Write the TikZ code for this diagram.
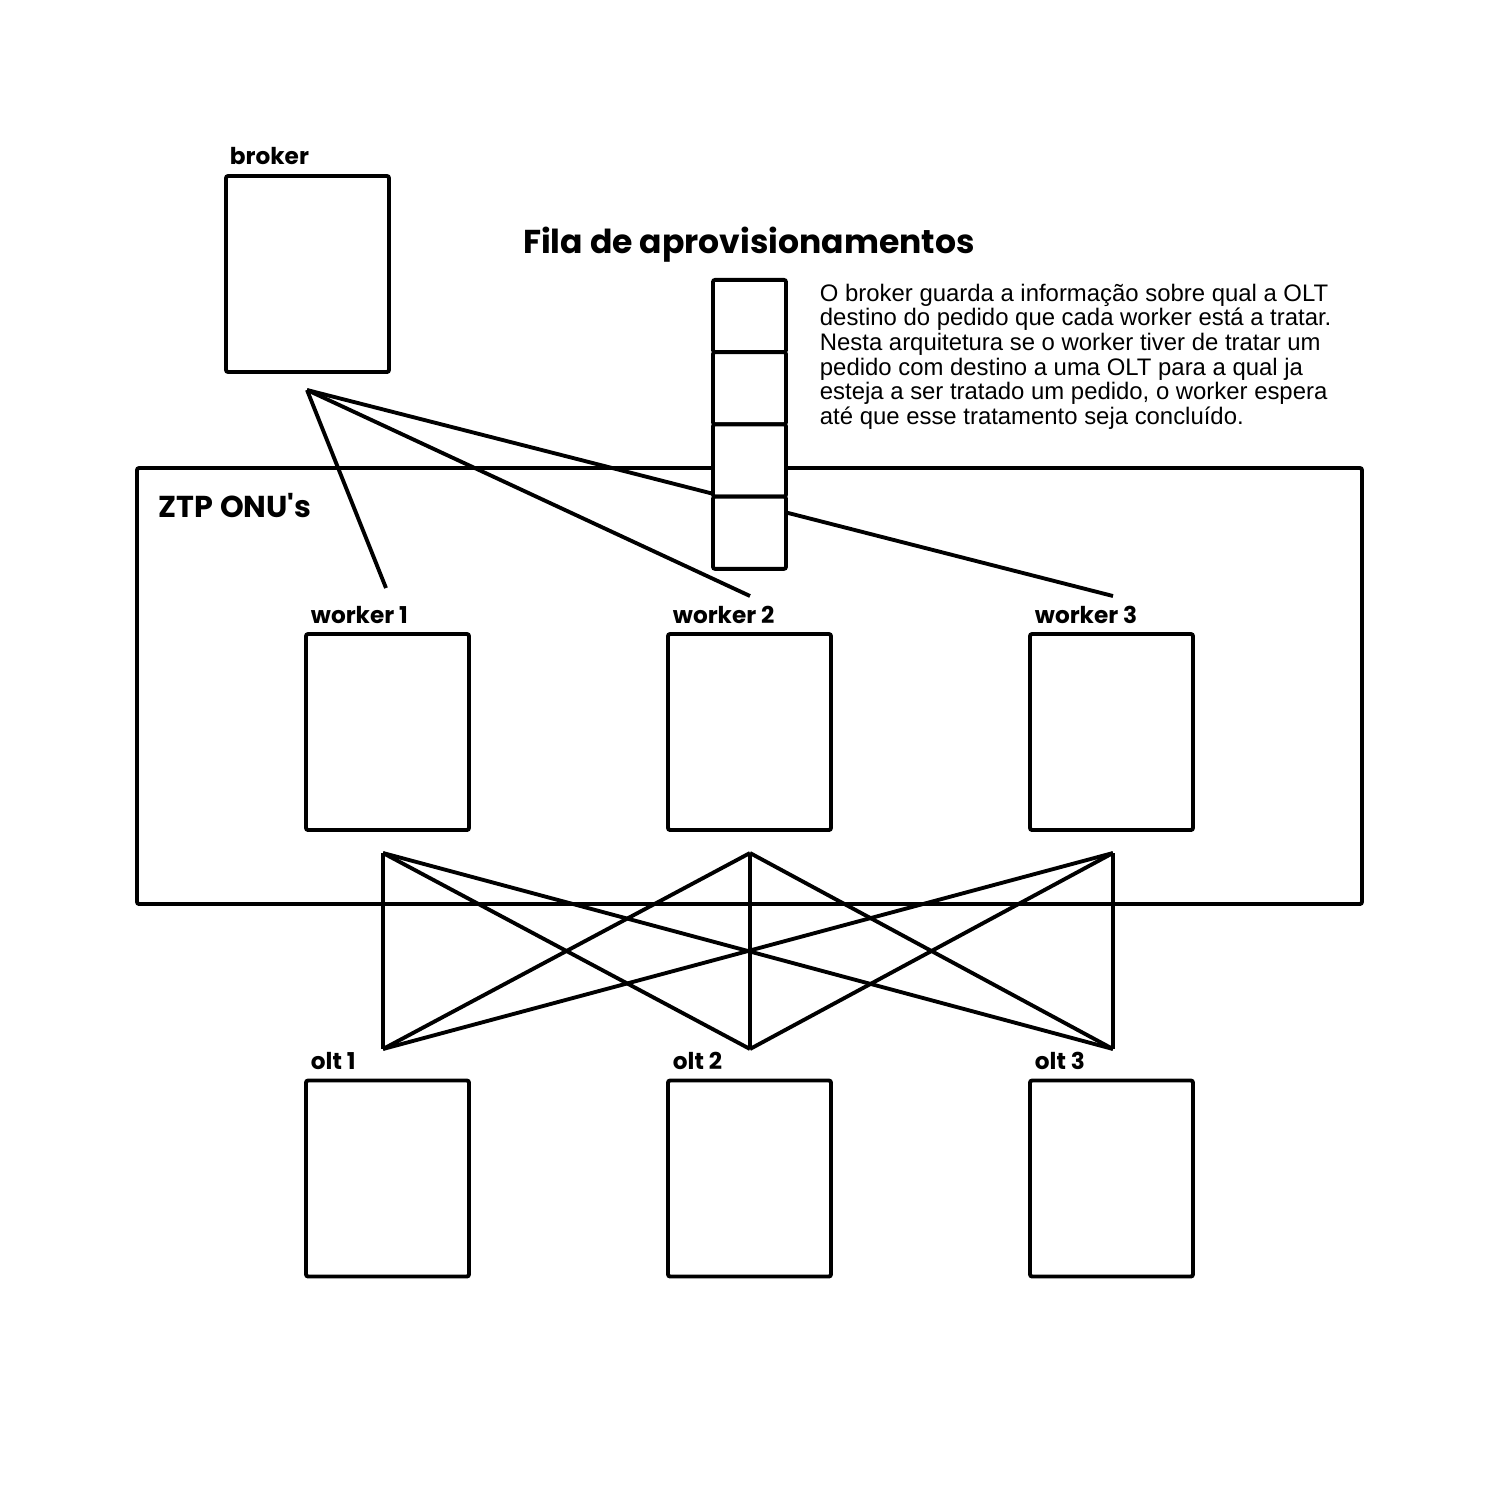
\documentclass[tikz,border=0pt]{standalone}
\usepackage{fontspec}
\setmainfont{Liberation Sans}
\newfontfamily\lblfont{Poppins}[UprightFont=* Bold]
\usetikzlibrary{positioning}
\tikzstyle{box}=[
        draw,
        line width = 1.1pt,
        fill = white,
        rounded corners = 0.6pt,
        inner sep = 0pt,
        outer sep = 0pt,
        minimum width = 1.63cm,
        minimum height = 1.96cm
    ]
\tikzstyle{cell}=[
        box,
        minimum width = 0.73cm,
        minimum height = 0.7225cm
    ]
\tikzstyle{lbl}=[
        font = \lblfont\fontsize{6.6}{8}\selectfont,
        anchor = base west,
        inner sep = 0pt
    ]

\begin{document}
\begin{tikzpicture}[node distance={3.62cm}, line width=1.1pt, wire/.style = {line width=1.1pt}]
        \useasboundingbox (0,0) rectangle (15,-15);

        % caixa ZTP
        \node[box, minimum width=12.25cm, minimum height=4.36cm, fill=none] (ztp) at (7.495,-6.86) {};
        \node[lbl, font=\lblfont\fontsize{8.6}{10}\selectfont] (ztp label) at ([xshift=0.2cm, yshift=-0.49cm]ztp.north west) {ZTP ONU's};

        \node[box] (broker) at (3.075,-2.74) {};
        \node[box] (w1) at (3.875,-7.32) {};
        \node[box] (w2) [right of = w1] {};
        \node[box] (w3) [right of = w2] {};
        \node[box] (o1) [node distance=4.465cm, below of = w1] {};
        \node[box] (o2) [node distance=4.465cm, below of = w2] {};
        \node[box] (o3) [node distance=4.465cm, below of = w3] {};

        \node[lbl] (broker label) at ([xshift=0.02cm, yshift=0.12cm]broker.north west) {broker};
        \node[lbl] (w1 label) at ([xshift=0.03cm, yshift=0.11cm]w1.north west) {worker 1};
        \node[lbl] (w2 label) at ([xshift=0.03cm, yshift=0.11cm]w2.north west) {worker 2};
        \node[lbl] (w3 label) at ([xshift=0.03cm, yshift=0.11cm]w3.north west) {worker 3};
        \node[lbl] (o1 label) at ([xshift=0.03cm, yshift=0.11cm]o1.north west) {olt 1};
        \node[lbl] (o2 label) at ([xshift=0.03cm, yshift=0.11cm]o2.north west) {olt 2};
        \node[lbl] (o3 label) at ([xshift=0.03cm, yshift=0.11cm]o3.north west) {olt 3};

        \node[lbl, anchor=base, font=\lblfont\fontsize{9.4}{11}\selectfont] (title) at (7.49,-2.53) {Fila de aprovisionamentos};
        \node[anchor=north west, inner sep=0pt, align=left, font=\fontsize{6.8}{7}\selectfont] (note) at (8.18,-2.82)
            {O broker guarda a informação sobre qual a OLT\\
             destino do pedido que cada worker está a tratar.\\
             Nesta arquitetura se o worker tiver de tratar um\\
             pedido com destino a uma OLT para a qual ja\\
             esteja a ser tratado um pedido, o worker espera\\
             até que esse tratamento seja concluído.};

        % pontas das ligacoes
        \coordinate (bk) at (3.07,-3.90);
        \coordinate (e1) at (3.86,-5.88);
        \coordinate (e2) at (7.50,-5.96);
        \coordinate (e3) at (11.13,-5.96);
        \coordinate (t1) at (3.83,-8.53);
        \coordinate (t2) at (7.50,-8.53);
        \coordinate (t3) at (11.13,-8.53);
        \coordinate (b1) at (3.83,-10.49);
        \coordinate (b2) at (7.50,-10.49);
        \coordinate (b3) at (11.13,-10.49);

        \draw[wire] (bk) -- (e1);
        \draw[wire] (bk) -- (e2);
        \draw[wire] (bk) -- (e3);

        \draw[wire] (t1) -- (b1);
        \draw[wire] (t1) -- (b2);
        \draw[wire] (t1) -- (b3);
        \draw[wire] (t2) -- (b1);
        \draw[wire] (t2) -- (b2);
        \draw[wire] (t2) -- (b3);
        \draw[wire] (t3) -- (b1);
        \draw[wire] (t3) -- (b2);
        \draw[wire] (t3) -- (b3);

        % fila
        \node[cell] (q1) at (7.495,-3.16) {};
        \node[cell] (q2) [below = 0pt of q1] {};
        \node[cell] (q3) [below = 0pt of q2] {};
        \node[cell] (q4) [below = 0pt of q3] {};
    \end{tikzpicture}
\end{document}
